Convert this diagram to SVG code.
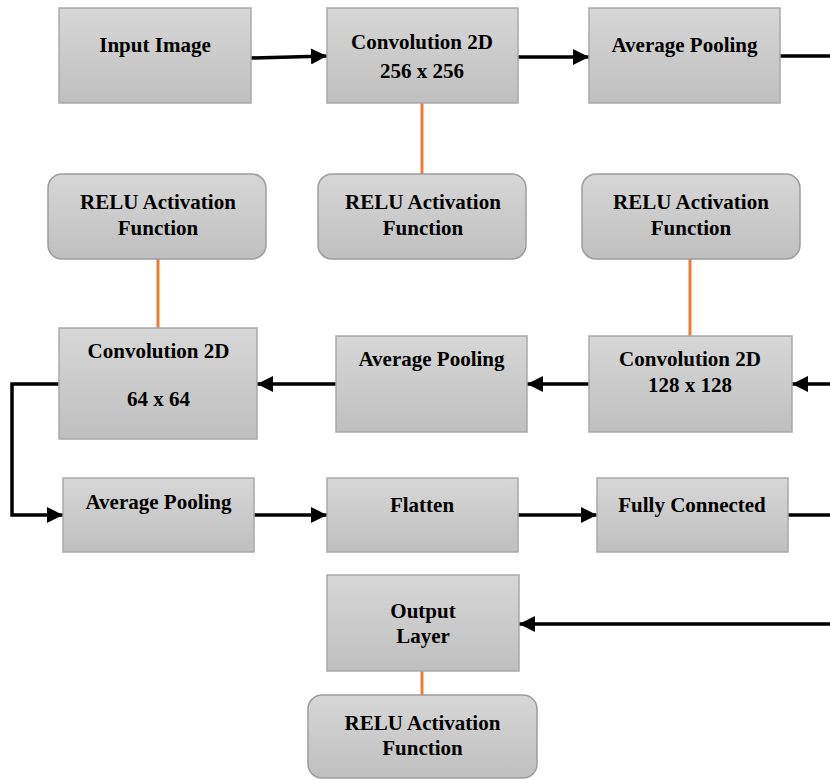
<svg xmlns="http://www.w3.org/2000/svg" width="830" height="780" viewBox="0 0 830 780">
  <defs>
    <linearGradient id="boxFill" x1="0" y1="0" x2="0" y2="1">
      <stop offset="0" stop-color="#d7d7d7"/>
      <stop offset="1" stop-color="#bfbfbf"/>
    </linearGradient>
    <marker id="arrow" viewBox="0 0 16 16" refX="16" refY="8" markerWidth="16" markerHeight="16" markerUnits="userSpaceOnUse" orient="auto">
      <path d="M0,0 L16,8 L0,16 Z" fill="#000"/>
    </marker>
  </defs>
  <style>
    .box { fill: url(#boxFill); stroke: #a9a9a9; stroke-width: 1.5; }
    .rbox { fill: url(#boxFill); stroke: #9d9d9d; stroke-width: 1.5; }
    .lbl { font-family: "Liberation Serif", "Times New Roman", serif; font-weight: bold; font-size: 21px; fill: #000; text-anchor: middle; }
    .flow { fill: none; stroke: #000; stroke-width: 3.5; }
    .act { fill: none; stroke: #ed7d31; stroke-width: 3; }
  </style>
  <rect width="830" height="780" fill="#fff"/>

  <g id="connectors">
    <!-- activation links -->
    <line class="act" x1="422" y1="103" x2="422" y2="175"/>
    <line class="act" x1="158" y1="259" x2="158" y2="328"/>
    <line class="act" x1="690" y1="259" x2="690" y2="336"/>
    <line class="act" x1="422" y1="671" x2="422" y2="696"/>
    <!-- row 1 -->
    <line class="flow" x1="251" y1="58" x2="327" y2="56" marker-end="url(#arrow)"/>
    <line class="flow" x1="518" y1="57" x2="589" y2="57" marker-end="url(#arrow)"/>
    <line class="flow" x1="780" y1="56" x2="830" y2="56"/>
    <!-- row 3 -->
    <line class="flow" x1="830" y1="384" x2="792" y2="384" marker-end="url(#arrow)"/>
    <line class="flow" x1="589" y1="384" x2="527" y2="384" marker-end="url(#arrow)"/>
    <line class="flow" x1="336" y1="384" x2="257" y2="384" marker-end="url(#arrow)"/>
    <polyline class="flow" points="59,384 12,384 12,515 63,515" marker-end="url(#arrow)"/>
    <!-- row 4 -->
    <line class="flow" x1="254" y1="515" x2="327" y2="515" marker-end="url(#arrow)"/>
    <line class="flow" x1="518" y1="515" x2="597" y2="515" marker-end="url(#arrow)"/>
    <line class="flow" x1="788" y1="515" x2="830" y2="515"/>
    <!-- row 5 -->
    <line class="flow" x1="830" y1="624" x2="519" y2="624" marker-end="url(#arrow)"/>
  </g>

  <g id="input-image">
    <rect class="box" x="59" y="8" width="192" height="95"/>
    <text class="lbl" x="155" y="52">Input Image</text>
  </g>
  <g id="conv-256">
    <rect class="box" x="327" y="8" width="191" height="95"/>
    <text class="lbl" x="422" y="49">Convolution 2D</text>
    <text class="lbl" x="422" y="78">256 x 256</text>
  </g>
  <g id="avgpool-1">
    <rect class="box" x="589" y="8" width="191" height="95"/>
    <text class="lbl" x="684.5" y="52">Average Pooling</text>
  </g>

  <g id="relu-1">
    <rect class="rbox" x="48" y="174" width="218" height="85" rx="14"/>
    <text class="lbl" x="158" y="209">RELU Activation</text>
    <text class="lbl" x="158" y="235">Function</text>
  </g>
  <g id="relu-2">
    <rect class="rbox" x="318" y="174" width="208" height="85" rx="14"/>
    <text class="lbl" x="423" y="209">RELU Activation</text>
    <text class="lbl" x="423" y="235">Function</text>
  </g>
  <g id="relu-3">
    <rect class="rbox" x="582" y="174" width="218" height="85" rx="14"/>
    <text class="lbl" x="691" y="209">RELU Activation</text>
    <text class="lbl" x="691" y="235">Function</text>
  </g>

  <g id="conv-64">
    <rect class="box" x="59" y="328" width="198" height="111"/>
    <text class="lbl" x="158.5" y="358">Convolution 2D</text>
    <text class="lbl" x="158.5" y="406">64 x 64</text>
  </g>
  <g id="avgpool-2">
    <rect class="box" x="336" y="336" width="191" height="96"/>
    <text class="lbl" x="431.5" y="366">Average Pooling</text>
  </g>
  <g id="conv-128">
    <rect class="box" x="589" y="336" width="203" height="96"/>
    <text class="lbl" x="690" y="366">Convolution 2D</text>
    <text class="lbl" x="690" y="392">128 x 128</text>
  </g>

  <g id="avgpool-3">
    <rect class="box" x="63" y="478" width="191" height="74"/>
    <text class="lbl" x="158.5" y="509">Average Pooling</text>
  </g>
  <g id="flatten">
    <rect class="box" x="327" y="478" width="191" height="74"/>
    <text class="lbl" x="422" y="512">Flatten</text>
  </g>
  <g id="fully-connected">
    <rect class="box" x="597" y="478" width="191" height="74"/>
    <text class="lbl" x="692" y="512">Fully Connected</text>
  </g>

  <g id="output-layer">
    <rect class="box" x="327" y="575" width="192" height="96"/>
    <text class="lbl" x="423" y="618">Output</text>
    <text class="lbl" x="423" y="643">Layer</text>
  </g>
  <g id="relu-4">
    <rect class="rbox" x="308" y="695" width="229" height="83" rx="14"/>
    <text class="lbl" x="422.5" y="730">RELU Activation</text>
    <text class="lbl" x="422.5" y="755">Function</text>
  </g>
</svg>
